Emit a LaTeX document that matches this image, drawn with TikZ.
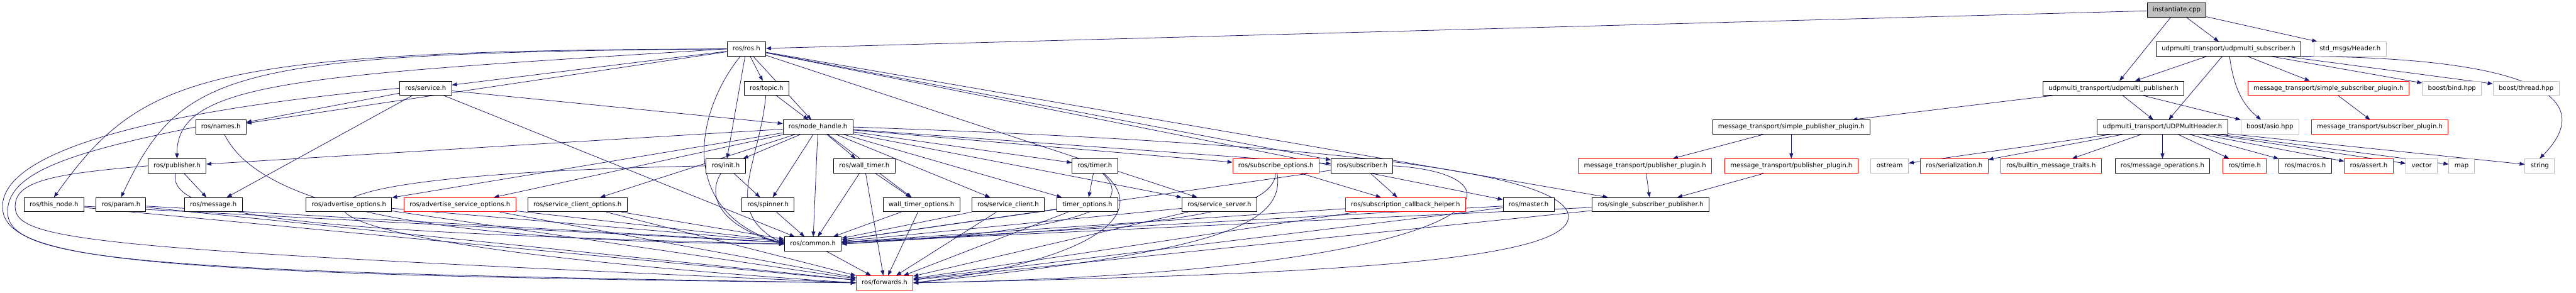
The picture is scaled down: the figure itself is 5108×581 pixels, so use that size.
\documentclass[tikz,border=0pt]{standalone}
\usepackage{fontspec}
\setmainfont{DejaVu Sans}
\usetikzlibrary{arrows.meta,backgrounds}
\definecolor{edgeblue}{HTML}{191970}
\definecolor{sysgray}{HTML}{BFBFBF}
\tikzset{
  file/.style={draw=black,fill=white,line width=0.7pt,minimum height=0.56cm,
    inner xsep=0.22cm,inner ysep=0pt,text height=5.5pt,text depth=1.6pt,
    font=\fontsize{7.2pt}{8.6pt}\selectfont},
  trunc/.style={file,draw=red},
  sys/.style={file,draw=sysgray},
  root/.style={file,fill=sysgray},
  dep/.style={draw=edgeblue,line width=0.55pt,-{Triangle[length=0.2cm,width=0.15cm]}}
}

\begin{document}
\begin{tikzpicture}[x=0.02cm,y=-0.02cm]
  \useasboundingbox (0,0) rectangle (5108,581);
  % rows 0-3
  \node[root] (inst) at (4316,20) {instantiate.cpp};
  \node[file] (rosh) at (1480,97) {ros/ros.h};
  \node[file] (udpsub) at (4419,97) {udpmulti\_transport/udpmulti\_subscriber.h};
  \node[sys] (stdhdr) at (4660,97) {std\_msgs/Header.h};
  \node[file] (service) at (844,175) {ros/service.h};
  \node[file] (topic) at (1520,175) {ros/topic.h};
  \node[file] (udppub) at (4191,175) {udpmulti\_transport/udpmulti\_publisher.h};
  \node[trunc] (simsub) at (4617,175) {message\_transport/simple\_subscriber\_plugin.h};
  \node[sys] (bind) at (4862,175) {boost/bind.hpp};
  \node[sys] (thread) at (5009,175) {boost/thread.hpp};
  \node[file] (names) at (438,252) {ros/names.h};
  \node[file] (nh) at (1622,252) {ros/node\_handle.h};
  \node[file] (simpub) at (3552,252) {message\_transport/simple\_publisher\_plugin.h};
  \node[file] (udphdr) at (4288,252) {udpmulti\_transport/UDPMultHeader.h};
  \node[sys] (asio) at (4501,252) {boost/asio.hpp};
  \node[trunc] (subplug) at (4719,252) {message\_transport/subscriber\_plugin.h};
  % row 4
  \node[file] (publisher) at (351,329) {ros/publisher.h};
  \node[file] (init) at (1439,329) {ros/init.h};
  \node[file] (walltimer) at (1714,329) {ros/wall\_timer.h};
  \node[file] (timer) at (2171,329) {ros/timer.h};
  \node[trunc] (subopts) at (2530,329) {ros/subscribe\_options.h};
  \node[file] (subscriber) at (2701,329) {ros/subscriber.h};
  \node[trunc] (pubplugA) at (3262,329) {message\_transport/publisher\_plugin.h};
  \node[trunc] (pubplugB) at (3552,329) {message\_transport/publisher\_plugin.h};
  \node[sys] (ostream) at (3747,329) {ostream};
  \node[trunc] (serial) at (3875,329) {ros/serialization.h};
  \node[trunc] (builtin) at (4067,329) {ros/builtin\_message\_traits.h};
  \node[file] (msgops) at (4288,329) {ros/message\_operations.h};
  \node[trunc] (rtime) at (4451,329) {ros/time.h};
  \node[file] (macros) at (4571,329) {ros/macros.h};
  \node[trunc] (rassert) at (4697,329) {ros/assert.h};
  \node[sys] (vector) at (4802,329) {vector};
  \node[sys] (map) at (4881,329) {map};
  \node[sys] (string) at (5036,329) {string};
  % row 5
  \node[file] (thisnode) at (107,406) {ros/this\_node.h};
  \node[file] (param) at (240,406) {ros/param.h};
  \node[file] (message) at (423,406) {ros/message.h};
  \node[file] (advopts) at (692,406) {ros/advertise\_options.h};
  \node[trunc] (advsrv) at (912,406) {ros/advertise\_service\_options.h};
  \node[file] (srvclopts) at (1145,406) {ros/service\_client\_options.h};
  \node[file] (spinner) at (1523,406) {ros/spinner.h};
  \node[file] (wtopts) at (1827,406) {wall\_timer\_options.h};
  \node[file] (srvclient) at (1999,406) {ros/service\_client.h};
  \node[file] (timeropts) at (2156,406) {timer\_options.h};
  \node[file] (srvserver) at (2418,406) {ros/service\_server.h};
  \node[trunc] (subcb) at (2787,406) {ros/subscription\_callback\_helper.h};
  \node[file] (master) at (3031,406) {ros/master.h};
  \node[file] (ssp) at (3273,406) {ros/single\_subscriber\_publisher.h};
  % rows 6-7
  \node[file] (common) at (1612,484) {ros/common.h};
  \node[trunc] (forwards) at (1754,561) {ros/forwards.h};

  \begin{scope}[on background layer]
    \foreach \a/\b in {inst/rosh,inst/udpsub,inst/udppub,inst/stdhdr,
        udpsub/udppub,udpsub/udphdr,udpsub/simsub,udpsub/bind,udpsub/thread,
        udppub/simpub,udppub/udphdr,udppub/asio,simsub/subplug,
        simpub/pubplugA,simpub/pubplugB,pubplugA/ssp,pubplugB/ssp,
        udphdr/ostream,udphdr/serial,udphdr/builtin,udphdr/msgops,udphdr/rtime,
        udphdr/macros,udphdr/rassert,udphdr/vector,udphdr/map,udphdr/string,
        rosh/service,rosh/topic,rosh/nh,rosh/init,rosh/names,rosh/subscriber,
        rosh/srvserver,rosh/master,rosh/ssp,
        service/nh,service/names,service/message,service/common,
        topic/nh,publisher/message,
        nh/publisher,nh/advopts,nh/advsrv,nh/srvclopts,nh/init,nh/spinner,
        nh/common,nh/walltimer,nh/wtopts,nh/srvclient,nh/timeropts,nh/timer,
        nh/srvserver,nh/subopts,nh/subscriber,
        init/spinner,spinner/common,timer/timeropts,
        walltimer/wtopts,walltimer/common,walltimer/forwards,
        subopts/subcb,subscriber/subcb,subscriber/common}
      \draw[dep] (\a) -- (\b);
    \foreach \a in {thisnode,param,advopts,advsrv,srvclopts,wtopts,srvclient,
        timeropts,srvserver,subcb,master,ssp}{
      \draw[dep] (\a) -- (common);
      \draw[dep] (\a) -- (forwards);
    }
    \draw[dep] (common) -- (forwards);
    % bent connectors
    \draw[dep] (rosh.west) .. controls (400,100) and (280,150) .. (thisnode.north);
    \draw[dep] (rosh.west) .. controls (450,105) and (360,140) .. (param.north);
    \draw[dep] (rosh.west) .. controls (600,150) and (350,160) .. (publisher.north);
    \draw[dep] (rosh) .. controls (1380,220) and (1340,420) .. (common.west);
    \draw[dep] (topic) .. controls (1505,330) and (1430,420) .. (common.west);
    \draw[dep] (init) .. controls (1400,390) and (1430,450) .. (common.west);
    \draw[dep] (names) .. controls (520,420) and (900,480) .. (common.west);
    \draw[dep] (publisher) .. controls (330,430) and (600,460) .. (common.west);
    \draw[dep] (service.west) .. controls (300,220) and (5,300) .. (5,410)
      .. controls (5,520) and (300,545) .. (forwards.west);
    \draw[dep] (names.west) .. controls (150,300) and (15,340) .. (15,420)
      .. controls (15,520) and (300,540) .. (forwards.west);
    \draw[dep] (publisher.west) .. controls (100,345) and (30,360) .. (30,410)
      .. controls (30,480) and (200,495) .. (forwards.west);
    \draw[dep] (init.west) .. controls (350,350) and (450,480) .. (forwards.west);
    \draw[dep] (nh.east) .. controls (2500,280) and (3110,330) .. (3110,430)
      .. controls (3110,520) and (2600,545) .. (forwards.east);
    \draw[dep] (subscriber.east) .. controls (3050,345) and (3000,540) .. (forwards.east);
    \draw[dep] (subopts) .. controls (2525,440) and (2200,450) .. (common.east);
    \draw[dep] (subopts) .. controls (2550,450) and (2400,500) .. (forwards.east);
    \draw[dep] (timer) .. controls (2265,420) and (2100,460) .. (common.east);
    \draw[dep] (timer) .. controls (2290,430) and (2150,520) .. (forwards.east);
    \draw[dep] (udpsub) .. controls (4430,180) and (4450,210) .. (asio);
    \draw[dep] (udpsub.south east) .. controls (5100,115) and (5130,220) .. (string.north);
  \end{scope}
\end{tikzpicture}
\end{document}
